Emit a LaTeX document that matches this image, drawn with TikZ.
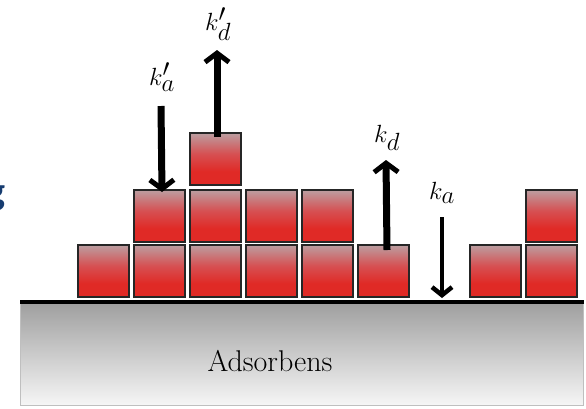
\documentclass[tikz,border=0pt]{standalone}
\usepackage{fontspec}
\newfontfamily\carlito{Carlito}
\usetikzlibrary{arrows.meta}
\definecolor{cubetop}{RGB}{188,158,161}
\definecolor{cubemid}{RGB}{214,80,82}
\definecolor{cubebot}{RGB}{224,42,38}
\definecolor{subtop}{RGB}{158,158,158}
\definecolor{subbot}{RGB}{246,246,246}
\definecolor{titleblue}{RGB}{22,60,112}
\pgfdeclareverticalshading{cubeshade}{100bp}{color(0bp)=(cubebot); color(25bp)=(cubebot); color(38bp)=(cubebot); color(55bp)=(cubemid); color(75bp)=(cubetop); color(100bp)=(cubetop)}
\tikzset{
  cube/.style={draw=black!85, line width=1.4pt, shading=cubeshade,
    minimum width=51pt, minimum height=52pt, inner sep=0pt, outer sep=0pt, anchor=north west},
  bigarrow/.style={line width=7pt, -{Straight Barb[length=9pt,width=24pt,line width=5pt]}},
  smallarrow/.style={line width=4.5pt, -{Straight Barb[length=8pt,width=20pt,line width=4.5pt]}},
  rate/.style={font=\fontsize{33}{35}\selectfont, inner sep=0pt},
}
\begin{document}
\begin{tikzpicture}[x=1pt,y=-1pt]
\useasboundingbox (0,0) rectangle (586,408);
\begin{scope}
\clip (0,0) rectangle (586,408);
\node[font=\carlito\bfseries\fontsize{40}{40}\selectfont, text=titleblue, anchor=base east, inner sep=0pt] (g) at (5.5,204) {g};
\end{scope}
% substrate
\node[draw=black!25, line width=0.6pt, top color=subtop, bottom color=subbot,
  minimum width=563pt, minimum height=104pt, anchor=north west, inner sep=0pt] (sub) at (20,301) {};
\path (sub.north west) ++(0,1) coordinate (lineL);
\path (sub.north east) ++(0,1) coordinate (lineR);
\draw[line width=4.5pt] (lineL) -- (lineR);
\node[font=\fontsize{30}{32}\selectfont, inner sep=0pt] (adsorbens) at (270,361) {Adsorbens};
% cubes row 1
\foreach \i in {0,1,2,3,4,5,7,8}{
  \node[cube] (a\i) at (78+56*\i,245) {};
}
% row 2
\foreach \i in {1,2,3,4,8}{
  \node[cube] (b\i) at (78+56*\i,190) {};
}
% row 3
\node[cube] (c2) at (190,133) {};
% labels
\node[rate] (kap) at (162,77) {$k'_a$};
\node[rate] (kdp) at (218,24) {$k'_d$};
\node[rate] (kd) at (387,138) {$k_d$};
\node[rate] (ka) at (442,193) {$k_a$};
% arrows
\coordinate (kapTop) at (161,106);
\draw[bigarrow] (kapTop) -- ([xshift=2.5pt,yshift=-2pt]b1.north);
\coordinate (kdpTip) at (217,50);
\draw[bigarrow] ([xshift=1.5pt,yshift=-4pt]c2.north) -- (kdpTip);
\coordinate (kdTip) at (386,160);
\draw[bigarrow] ([xshift=3.5pt,yshift=-5pt]a5.north) -- (kdTip);
\coordinate (kaTop) at (442,217);
\coordinate (kaTip) at (442,298);
\draw[smallarrow] (kaTop) -- (kaTip);
\end{tikzpicture}
\end{document}
